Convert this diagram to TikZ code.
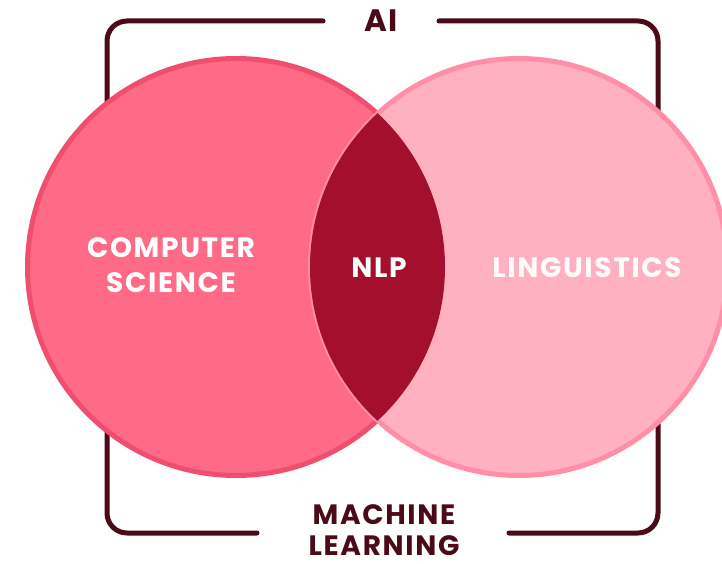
\documentclass[tikz,border=0pt]{standalone}
\usepackage{fontspec}
\setmainfont{Poppins}
\newfontfamily\vennfont{Poppins}[LetterSpace=6]
\definecolor{csfill}{HTML}{FF6A86}
\definecolor{csedge}{HTML}{F04E6E}
\definecolor{lingfill}{HTML}{FFB0C1}
\definecolor{lingedge}{HTML}{FF8FA9}
\definecolor{nlpfill}{HTML}{A50F2E}
\definecolor{darkmaroon}{HTML}{4A0A18}
\begin{document}
\begin{tikzpicture}[line cap=round,line join=round,x=1pt,y=-1pt,
	bracket/.style={line width=5pt,color=darkmaroon,rounded corners=20pt},
	venn/.style={circle,minimum size=417pt,line width=5pt,inner sep=0pt},
	lbl/.style={font=\vennfont\bfseries\fontsize{28}{32}\selectfont,align=center,inner sep=1pt}]
			\clip(0,0) rectangle (722,564);
			% brackets behind the circles
			\draw [bracket] (323,21)-- (107,21)-- (107,150);
			\draw [bracket] (439,21)-- (658,21)-- (658,150);
			\draw [bracket] (257,533)-- (107,533)-- (107,400);
			\draw [bracket] (509,533)-- (658,533)-- (658,400);
			% circles
			\node [venn,fill=csfill,draw=csedge] (cs) at (236,267) {};
			\node [venn,fill=lingfill,draw=lingedge] (ling) at (519,267) {};
			\begin{scope}
				\clip (cs.center) circle (209);
				\fill [nlpfill] (ling.center) circle (209);
			\end{scope}
			% labels
			\draw[color=darkmaroon] (381,21) node[lbl,font=\vennfont\bfseries\fontsize{31}{32}\selectfont] (ailabel) {AI};
			\draw[color=darkmaroon] (384,530) node[lbl,font=\vennfont\bfseries\fontsize{28}{31}\selectfont] (mllabel) {MACHINE\\LEARNING};
			\draw[color=white] (171,265) node[lbl,font=\vennfont\bfseries\fontsize{28}{35}\selectfont] (cslabel) {COMPUTER\\SCIENCE};
			\draw[color=white] (379,268) node[lbl] (nlplabel) {NLP};
			\draw[color=white!95!pink] (587,268) node[lbl] (linglabel) {LINGUISTICS};
\end{tikzpicture}
\end{document}
